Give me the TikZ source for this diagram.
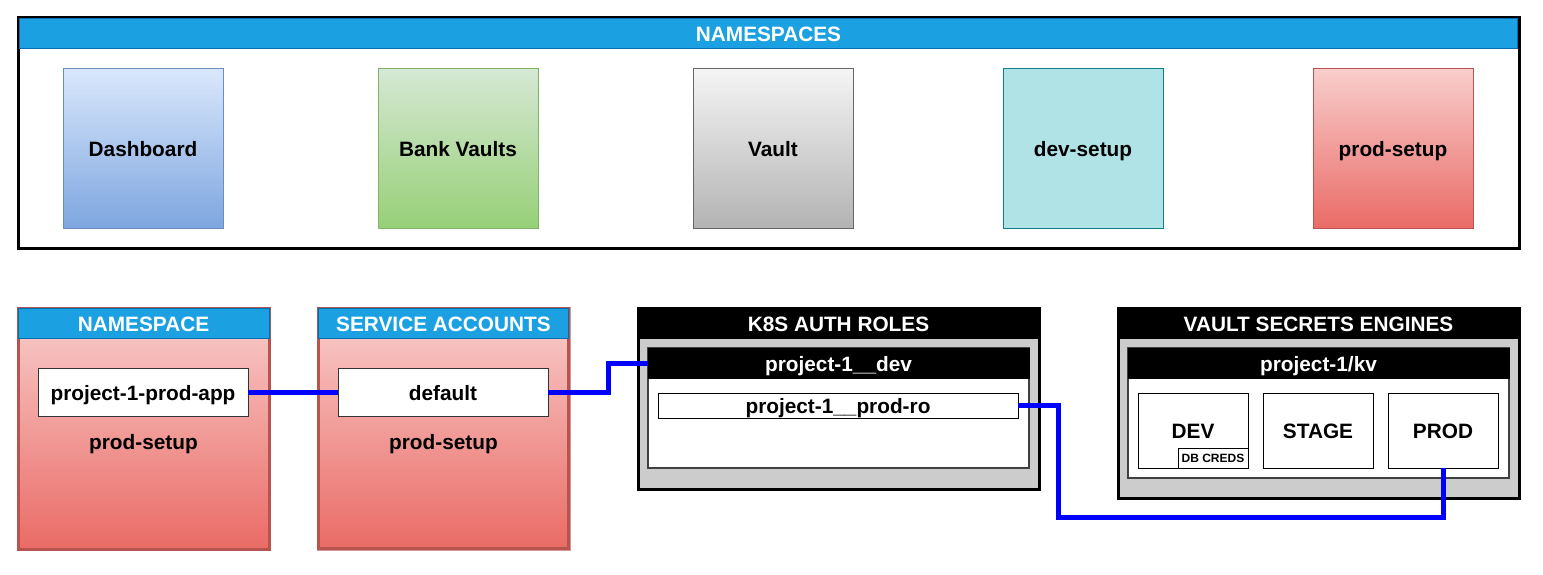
\documentclass[tikz,border=0pt]{standalone}
\usepackage{fontspec}
\setmainfont{Liberation Sans}
\definecolor{hdrblue}{HTML}{1BA1E2}
\definecolor{hdrline}{HTML}{006EAF}
\definecolor{redline}{HTML}{B85450}
\definecolor{redtop}{HTML}{F8CECC}
\definecolor{redbot}{HTML}{EA6B66}
\definecolor{bluetop}{HTML}{DAE8FC}
\definecolor{bluebot}{HTML}{7EA6E0}
\definecolor{blueline}{HTML}{6C8EBF}
\definecolor{greentop}{HTML}{D5E8D4}
\definecolor{greenbot}{HTML}{97D077}
\definecolor{greenline}{HTML}{82B366}
\definecolor{graytop}{HTML}{F5F5F5}
\definecolor{graybot}{HTML}{B3B3B3}
\definecolor{grayline}{HTML}{666666}
\definecolor{tealfill}{HTML}{B0E3E6}
\definecolor{tealline}{HTML}{0E8088}
\definecolor{panel}{HTML}{CCCCCC}
\definecolor{wire}{HTML}{0000FF}
\begin{document}
\begin{tikzpicture}[x=0.5pt,y=-0.5pt,
  every node/.style={inner sep=0pt,outer sep=0pt},
  txt/.style={font=\bfseries\fontsize{10.4}{12}\selectfont,text height=10.2pt,text depth=2pt},
  box/.style={rectangle,txt},
  hdr/.style={box,fill=hdrblue,draw=hdrline,line width=0.5pt,text=white,minimum height=15pt},
  blackhdr/.style={box,fill=black,draw=black,line width=0.5pt,text=white,minimum height=15pt},
  sq/.style={box,minimum width=80pt,minimum height=80pt,line width=0.5pt},
  whitebox/.style={box,fill=white,draw=black!80,line width=0.5pt},
  wirestyle/.style={draw=wire,line width=2.5pt},
]
\useasboundingbox (0,0) rectangle (1543,574);
% ---- top namespaces panel
\node[box,fill=white,draw=black,line width=1.5pt,minimum width=750.5pt,minimum height=115.5pt] (ns) at (768.5,132.5) {};
\node[hdr,minimum width=749pt] (nshdr) at (768.5,33.5) {NAMESPACES};
\node[sq,top color=bluetop,bottom color=bluebot,draw=blueline] (dash) at (143,148) {Dashboard};
\node[sq,top color=greentop,bottom color=greenbot,draw=greenline] (bank) at (458,148) {Bank Vaults};
\node[sq,top color=graytop,bottom color=graybot,draw=grayline] (vault) at (773,148) {Vault};
\node[sq,fill=tealfill,draw=tealline] (devsetup) at (1083,148) {dev-setup};
\node[sq,top color=redtop,bottom color=redbot,draw=redline] (prodsetup) at (1393,148) {prod-setup};
% ---- namespace
\node[box,top color=redtop,bottom color=redbot,draw=redline,line width=1.5pt,minimum width=125.5pt,minimum height=120.5pt] (nsbox) at (143.5,428.5) {};
\node[hdr,minimum width=125.5pt] (nsboxhdr) at (143.5,323) {NAMESPACE};
\node[whitebox,minimum width=105pt,minimum height=24pt] (app) at (143,392) {project-1-prod-app};
\node[txt] (nsboxlbl) at (143.5,441) {prod-setup};
% ---- service accounts
\node[box,draw=redline!60,line width=0.5pt,minimum width=126.5pt,minimum height=121.5pt] (saouter) at (443.5,428.5) {};
\node[box,top color=redtop,bottom color=redbot,draw=redline,line width=1.5pt,minimum width=125pt,minimum height=120pt] (sabox) at (443.5,428.5) {};
\node[hdr,minimum width=125pt] (sahdr) at (443.5,323) {SERVICE ACCOUNTS};
\node[whitebox,minimum width=105pt,minimum height=24pt] (default) at (443,392) {default};
\node[txt] (salbl) at (443.5,441) {prod-setup};
% ---- k8s auth roles
\node[box,fill=panel,draw=black,line width=1.5pt,minimum width=200.5pt,minimum height=90.5pt] (k8s) at (838.5,398.5) {};
\node[blackhdr,minimum width=200.5pt] (k8shdr) at (838.5,323) {K8S AUTH ROLES};
\node[box,fill=white,draw=black!75,line width=1pt,minimum width=190.5pt,minimum height=60pt] (devrole) at (838.5,408) {};
\node[blackhdr,minimum width=190.5pt] (devhdr) at (838.5,363) {project-1\_\_dev};
\node[box,fill=white,draw=black,line width=0.5pt,minimum width=180pt,minimum height=12.5pt] (prodro) at (838,405.5) {project-1\_\_prod-ro};
% ---- vault secrets engines
\node[box,fill=panel,draw=black,line width=1.5pt,minimum width=200.5pt,minimum height=95pt] (vse) at (1318.5,403) {};
\node[blackhdr,minimum width=200.5pt] (vsehdr) at (1318.5,323) {VAULT SECRETS ENGINES};
\node[box,fill=white,draw=black!75,line width=1pt,minimum width=190.5pt,minimum height=65pt] (kv) at (1318.5,413) {};
\node[blackhdr,minimum width=190.5pt] (kvhdr) at (1318.5,363) {project-1/kv};
\node[whitebox,draw=black,minimum width=55pt,minimum height=37.5pt] (dev) at (1193,430.5) {DEV};
\node[whitebox,draw=black,minimum width=55pt,minimum height=37.5pt] (stage) at (1318,430.5) {STAGE};
\node[whitebox,draw=black,minimum width=55pt,minimum height=37.5pt] (prod) at (1443,430.5) {PROD};
\node[box,fill=white,draw=black,line width=0.5pt,minimum width=35pt,minimum height=10pt,font=\bfseries\fontsize{6}{7}\selectfont,text height=5.9pt,text depth=1.15pt] (dbcreds) at (1213,458) {DB CREDS};
% ---- connectors
\draw[wirestyle] (app.east) -- (default.west);
\draw[wirestyle] (default.east) -- ++(60,0) |- (devhdr.west);
\draw[wirestyle] (prodro.east) -- ++(40,0) -- ++(0,112) -| (prod.south);
\end{tikzpicture}
\end{document}
